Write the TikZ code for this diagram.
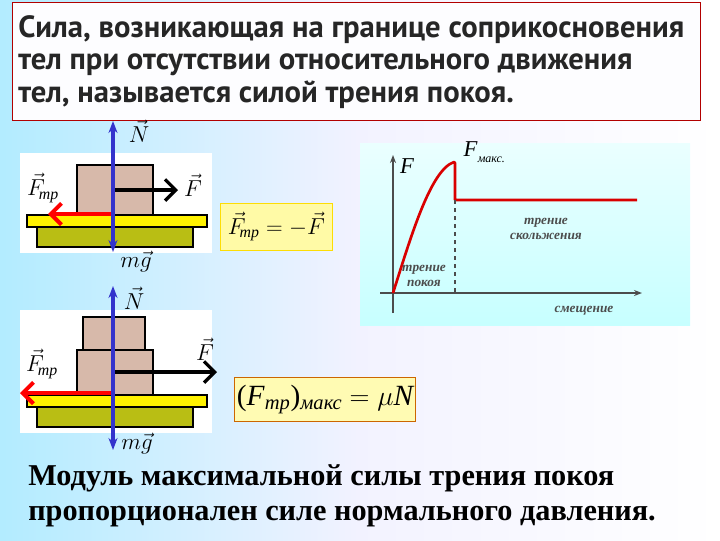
\documentclass[tikz,border=0pt]{standalone}
\usepackage{fontspec}
\setmainfont{Liberation Serif}
\newfontfamily\titlefont{PT Sans}
\usetikzlibrary{arrows.meta}
\definecolor{olivec}{RGB}{185,190,20}
\definecolor{brownc}{RGB}{215,185,170}
\begin{document}
\begin{tikzpicture}[x=0.75pt,y=-0.75pt,
 blk/.style={draw=black,line width=1.2pt,fill=brownc},
 yel/.style={draw=black,line width=1.2pt,fill=yellow},
 olv/.style={draw=black,line width=1.2pt,fill=olivec},
 bluearr/.style={draw=blue!60!gray,line width=2.5pt,{Stealth[length=9pt]}-{Stealth[length=9pt]}},
 blackarr/.style={draw=black,line width=2.5pt,-{Straight Barb[length=8pt]}},
 redarr/.style={draw=red,line width=3pt,-{Straight Barb[length=8pt]}},
 lab/.style={font=\itshape\fontsize{17}{17}\selectfont,inner sep=1pt},
 small/.style={font=\bfseries\itshape\fontsize{10}{11}\selectfont,text=black!70,align=center}]
\useasboundingbox (0,0) rectangle (720,540);
\shade[left color=blue!25!cyan!30!white,right color=white,middle color=blue!5!white] (0,0) rectangle (720,540);
% title
\node[draw=red!70!black,line width=1pt,fill=white!85!blue!5,minimum width=688*0.75pt,minimum height=118*0.75pt,anchor=north west,inner sep=0pt] (title) at (12,2) {};
\node[anchor=north west,align=left,inner sep=0pt,font=\titlefont\bfseries\fontsize{23}{24.5}\selectfont,text=black!85] (tt) at (18,15) {Сила, возникающая на границе соприкосновения\\тел при отсутствии относительного движения\\тел, называется силой трения покоя.};
% diagram 1
\fill[white] (20,153) rectangle (212,253);
\draw[blk] (77,165) rectangle (153,215);
\draw[yel] (27,215) rectangle (207,227);
\draw[olv] (37,227) rectangle (193,247);
\coordinate (c1) at (113,190); \coordinate (f1) at (178,190);
\coordinate (r1a) at (113,214); \coordinate (r1b) at (48,214);
\coordinate (n1) at (113,121); \coordinate (g1) at (113,252);
\draw[blackarr] (c1) -- (f1);
\draw[redarr] (r1a) -- (r1b);
\draw[bluearr] (g1) -- (n1);
\node[lab] (N1) at (139,131) {$\vec{N}$};
\node[lab] (F1) at (193,185) {$\vec{F}$};
\node[lab] (Fmp1) at (43,188) {$\vec{F}_{\!\mathit{mp}}$};
\node[lab] (mg1) at (136,262) {$m\vec{g}$};
\node[draw=yellow!80!orange,fill=yellow!35,minimum width=112*0.75pt,minimum height=47*0.75pt,anchor=north west] (eq1) at (220,203) {};
\node[lab] (eq1t) at (eq1.center) {$\vec{F}_{\!\mathit{mp}}=-\vec{F}$};
% diagram 2
\fill[white] (20,310) rectangle (212,433);
\draw[blk] (83,317) rectangle (145,350);
\draw[blk] (77,350) rectangle (153,395);
\draw[yel] (27,395) rectangle (207,407);
\draw[olv] (37,407) rectangle (193,427);
\coordinate (c2) at (115,372); \coordinate (f2) at (217,372);
\coordinate (r2a) at (113,393); \coordinate (r2b) at (20,393);
\coordinate (n2) at (113,286); \coordinate (g2) at (113,450);
\draw[blackarr] (c2) -- (f2);
\draw[redarr] (r2a) -- (r2b);
\draw[bluearr] (g2) -- (n2);
\node[lab] (N2) at (134,298) {$\vec{N}$};
\node[lab] (F2) at (205,349) {$\vec{F}$};
\node[lab] (Fmp2) at (42,364) {$\vec{F}_{\!\mathit{mp}}$};
\node[lab] (mg2) at (137,444) {$m\vec{g}$};
\node[draw=orange!80!black,fill=yellow!30,line width=0.8pt,minimum width=181*0.75pt,minimum height=44*0.75pt,anchor=north west] (eq2) at (234,377) {};
\node[font=\fontsize{22}{22}\selectfont] (eq2t) at (eq2.center) {(\textit{F}\textsubscript{\textit{mp}})\textsubscript{\textit{макс}} $=\mu\mathit{N}$};
% graph
\shade[top color=cyan!8!white,bottom color=cyan!22!white] (360,143) rectangle (690,325);
\coordinate (o) at (393,293);
\coordinate (ytop) at (393,155); \coordinate (ybot) at (393,313);
\coordinate (xl) at (380,293); \coordinate (xr) at (642,293);
\draw[black!70,line width=1pt,-{Stealth[length=6pt]}] (ybot) -- (ytop);
\draw[black!70,line width=1pt,-{Stealth[length=6pt]}] (xl) -- (xr);
\coordinate (pk) at (454,162); \coordinate (dn) at (455,200); \coordinate (end) at (637,200);
\draw[red!85!black,line width=2pt,line join=round] (o) .. controls (410,240) and (430,170) .. (pk) -- (455,163) -- (dn) -- (end);
\draw[black!70,dashed,line width=1pt] (dn) -- (455,293);
\node[font=\itshape\fontsize{17}{17}\selectfont] (Fax) at (407,166) {F};
\node[anchor=west] (Fm) at (459,152) {\fontsize{17}{17}\selectfont\textit{F}\raisebox{-4pt}{\fontsize{9}{9}\selectfont\textit{макс.}}};
\node[small] (ts) at (546,229) {трение\\скольжения};
\node[small] (tp) at (424,276) {трение\\покоя};
\node[small] (sm) at (584,311) {смещение};
% bottom text
\node[anchor=north west,align=left,inner sep=0pt,font=\bfseries\fontsize{22.7}{26.5}\selectfont] (bt) at (28,464) {Модуль максимальной силы трения покоя\\пропорционален силе нормального давления.};
\end{tikzpicture}
\end{document}
